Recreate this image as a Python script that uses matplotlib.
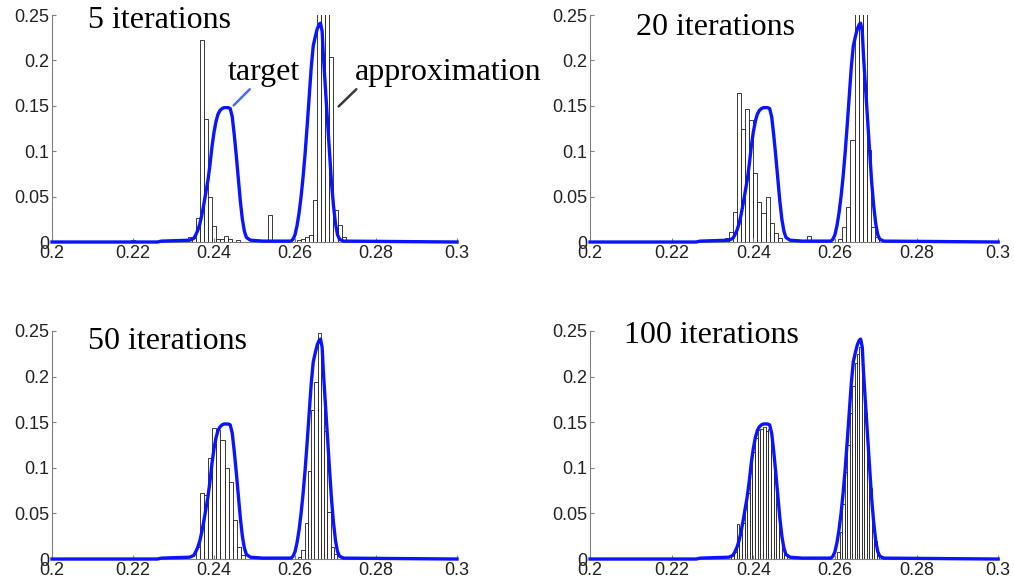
import numpy as np
import matplotlib.pyplot as plt

# target density, same curve in all four panels
target_x = [0.200, 0.226, 0.227, 0.234, 0.235, 0.2355, 0.236, 0.2365, 0.237, 0.2375,
            0.238, 0.2385, 0.239, 0.2395, 0.240, 0.2405, 0.241, 0.2415, 0.242, 0.2425,
            0.243, 0.2435, 0.244, 0.2445, 0.245, 0.2455, 0.246, 0.2465, 0.247, 0.2475,
            0.248, 0.249, 0.252, 0.259, 0.2595, 0.260, 0.2605, 0.261, 0.2615, 0.262,
            0.2625, 0.263, 0.2635, 0.264, 0.2645, 0.265, 0.2655, 0.266, 0.2663, 0.2667,
            0.267, 0.2675, 0.268, 0.2685, 0.269, 0.2695, 0.270, 0.2705, 0.271, 0.272, 0.300]
target_y = [0.000, 0.000, 0.001, 0.002, 0.004, 0.008, 0.013, 0.020, 0.030, 0.042,
            0.055, 0.068, 0.085, 0.105, 0.121, 0.133, 0.141, 0.145, 0.147, 0.148,
            0.148, 0.148, 0.147, 0.138, 0.118, 0.095, 0.070, 0.045, 0.025, 0.012,
            0.005, 0.002, 0.001, 0.001, 0.003, 0.008, 0.018, 0.032, 0.050, 0.072,
            0.098, 0.128, 0.160, 0.192, 0.216, 0.226, 0.235, 0.240, 0.241, 0.232,
            0.205, 0.170, 0.135, 0.100, 0.066, 0.040, 0.020, 0.008, 0.003, 0.001, 0.000]

# particle histograms: first bin edge, bin width, bar heights
it5_left_start, it5_left_w = 0.2335, 0.001
it5_left = [0.006, 0.004, 0.026, 0.222, 0.135, 0.050, 0.018, 0.003, 0.003, 0.007, 0.003]
it5_right_start, it5_right_w = 0.2605, 0.001
it5_right = [0.002, 0.003, 0.005, 0.008, 0.046, 0.40, 0.36, 0.33, 0.204, 0.035, 0.019, 0.006]
it5_extra_x = [0.2195, 0.2455, 0.2510, 0.2534]
it5_extra_h = [0.002, 0.002, 0.002, 0.030]

it20_left_start, it20_left_w = 0.233, 0.001
it20_left = [0.004, 0.011, 0.033, 0.164, 0.125, 0.146, 0.134, 0.076, 0.044, 0.032,
             0.050, 0.021, 0.010, 0.004]
it20_right_start, it20_right_w = 0.2608, 0.001
it20_right = [0.003, 0.017, 0.039, 0.112, 0.33, 0.38, 0.31, 0.101, 0.017, 0.006]
it20_extra_x = [0.2532, 0.2793]
it20_extra_h = [0.007, 0.002]

it50_left_start, it50_left_w = 0.2356, 0.001
it50_left = [0.013, 0.072, 0.070, 0.111, 0.144, 0.141, 0.130, 0.100, 0.084, 0.043, 0.013, 0.004]
it50_right_start, it50_right_w = 0.2608, 0.0008
it50_right = [0.002, 0.010, 0.039, 0.096, 0.163, 0.194, 0.248, 0.205, 0.140, 0.052, 0.013, 0.005]
it50_extra_x = []
it50_extra_h = []

it100_left_start, it100_left_w = 0.2346, 0.00065
it100_left = [0.004, 0.008, 0.038, 0.026, 0.040, 0.055, 0.072, 0.094, 0.117, 0.133, 0.141,
              0.143, 0.145, 0.140, 0.142, 0.120, 0.092, 0.060, 0.030, 0.012, 0.004]
it100_right_start, it100_right_w = 0.2606, 0.0006
it100_right = [0.008, 0.030, 0.060, 0.095, 0.125, 0.160, 0.190, 0.215, 0.225, 0.232, 0.200,
               0.160, 0.118, 0.078, 0.045, 0.020, 0.008, 0.003]
it100_extra_x = [0.2798]
it100_extra_h = [0.002]

titles = ["5 iterations", "20 iterations", "50 iterations", "100 iterations"]
title_pos = [(0.2089, 0.244), (0.2112, 0.236), (0.2089, 0.238), (0.2083, 0.245)]

xticks = [0.2, 0.22, 0.24, 0.26, 0.28, 0.3]
xticklabels = ["0.2", "0.22", "0.24", "0.26", "0.28", "0.3"]
yticks = [0, 0.05, 0.1, 0.15, 0.2, 0.25]
yticklabels = ["0", "0.05", "0.1", "0.15", "0.2", "0.25"]

panels = [
    (it5_left_start, it5_left_w, it5_left, it5_right_start, it5_right_w, it5_right, it5_extra_x, it5_extra_h),
    (it20_left_start, it20_left_w, it20_left, it20_right_start, it20_right_w, it20_right, it20_extra_x, it20_extra_h),
    (it50_left_start, it50_left_w, it50_left, it50_right_start, it50_right_w, it50_right, it50_extra_x, it50_extra_h),
    (it100_left_start, it100_left_w, it100_left, it100_right_start, it100_right_w, it100_right, it100_extra_x, it100_extra_h),
]

# axes boxes in figure fractions [left, bottom, width, height]
boxes = [[0.0513, 0.5863, 0.3994, 0.388],
         [0.5819, 0.5863, 0.4025, 0.388],
         [0.0513, 0.0444, 0.3994, 0.390],
         [0.5819, 0.0444, 0.4025, 0.390]]

serif = "Liberation Serif"
sans = "Liberation Sans"

fig = plt.figure(figsize=(10.14, 5.85), dpi=100)
fig.patch.set_facecolor("white")

for i, (ls, lw, lh, rs, rw, rh, ex, eh) in enumerate(panels):
    ax = fig.add_axes(boxes[i])
    bar_kw = dict(align="edge", facecolor="white", edgecolor="#1a1a1a", linewidth=0.6, zorder=1)
    ax.bar(ls + lw * np.arange(len(lh)), lh, width=lw, **bar_kw)
    ax.bar(rs + rw * np.arange(len(rh)), rh, width=rw, **bar_kw)
    if ex:
        ax.bar(ex, eh, width=lw, **bar_kw)
    ax.plot(target_x, target_y, color="#0a14ff", linewidth=2.4, zorder=3, clip_on=False)

    ax.set_xlim(0.2, 0.3)
    ax.set_ylim(0, 0.25)
    ax.set_xticks(xticks)
    ax.set_xticklabels(xticklabels)
    ax.set_yticks(yticks)
    ax.set_yticklabels(yticklabels)
    ax.tick_params(direction="in", length=3, width=0.8, color="#808080",
                   labelsize=13, pad=2, labelcolor="#222222")
    for lab in ax.get_xticklabels() + ax.get_yticklabels():
        lab.set_family(sans)
    for s in ["top", "right"]:
        ax.spines[s].set_visible(False)
    for s in ["left", "bottom"]:
        ax.spines[s].set_color("#808080")
        ax.spines[s].set_linewidth(0.8)

    tx, ty = title_pos[i]
    ax.text(tx, ty, titles[i], family=serif, fontsize=23, va="center", ha="left")

    if i == 0:
        ax.text(0.2435, 0.187, "target", family=serif, fontsize=23, va="center", ha="left")
        ax.annotate("", xy=(0.24437, 0.1483), xytext=(0.2493, 0.1704),
                    arrowprops=dict(arrowstyle="-", color="#4a6cf0", linewidth=1.8))
        ax.text(0.2748, 0.187, "approximation", family=serif, fontsize=23, va="center", ha="left")
        ax.annotate("", xy=(0.27028, 0.1472), xytext=(0.27563, 0.1704),
                    arrowprops=dict(arrowstyle="-", color="#3a3a3a", linewidth=1.8))

fig.savefig("out.png", dpi=100)
